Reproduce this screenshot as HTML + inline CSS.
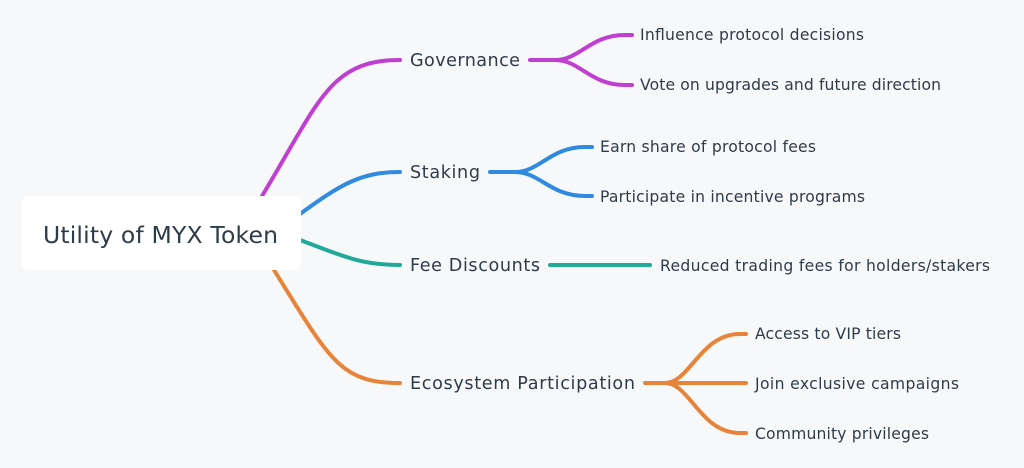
<!DOCTYPE html>
<html><head><style>
body{margin:0;background:#f7f8fa;}
svg{display:block}
text{font-family:"DejaVu Sans","Liberation Sans",sans-serif;fill:#2e3b48;}
</style></head><body>
<svg width="1024" height="468" viewBox="0 0 1024 468">
<rect width="1024" height="468" fill="#f7f8fa"/>
<g fill="none" stroke-width="4" stroke-linecap="round">
<path d="M262 196 C320 100 330 60 400 60" stroke="#c03fd1"/>
<path d="M530 60 L555 60 C580 60 590 35 625 35 L632 35 M555 60 C580 60 590 85 625 85 L632 85" stroke="#c03fd1"/>
<path d="M300 214 C340 185 360 172 400 172" stroke="#2f8ae0"/>
<path d="M490 172 L515 172 C540 172 550 147 585 147 L592 147 M515 172 C540 172 550 196 585 196 L592 196" stroke="#2f8ae0"/>
<path d="M300 240 C340 255 360 265 400 265" stroke="#22aa99"/>
<path d="M550 265 L650 265" stroke="#22aa99"/>
<path d="M274 270 C330 360 340 383 400 383" stroke="#e8843a"/>
<path d="M645 383 L665 383 C690 383 700 334 740 334 L746 334 M665 383 L746 383 M665 383 C690 383 700 433 740 433 L746 433" stroke="#e8843a"/>
</g>
<rect x="22" y="196" width="279" height="74" rx="6" fill="#fff"/>
<text x="43" y="243" font-size="23.5" textLength="235">Utility of MYX Token</text>
<g font-size="17.6">
<text x="410" y="66" textLength="110">Governance</text>
<text x="410" y="178" textLength="70">Staking</text>
<text x="410" y="271" textLength="130">Fee Discounts</text>
<text x="410" y="389" textLength="225">Ecosystem Participation</text>
</g>
<g font-size="15.6">
<text x="640" y="40" textLength="224">Influence protocol decisions</text>
<text x="640" y="90" textLength="301">Vote on upgrades and future direction</text>
<text x="600" y="152" textLength="216">Earn share of protocol fees</text>
<text x="600" y="202" textLength="265">Participate in incentive programs</text>
<text x="660" y="271" textLength="330">Reduced trading fees for holders/stakers</text>
<text x="755" y="339" textLength="146">Access to VIP tiers</text>
<text x="755" y="389" textLength="204">Join exclusive campaigns</text>
<text x="755" y="439" textLength="174">Community privileges</text>
</g>
</svg>
</body></html>
